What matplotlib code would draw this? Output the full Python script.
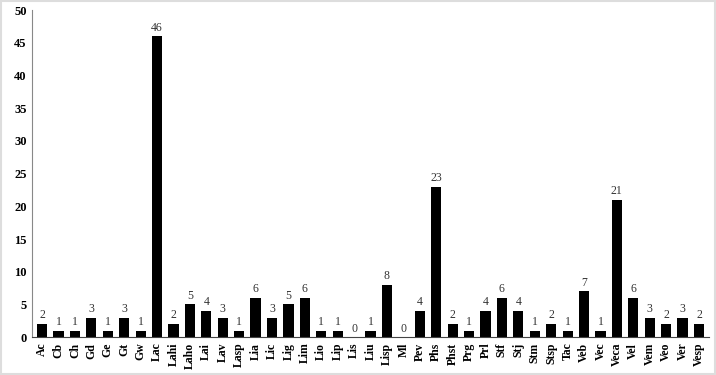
import numpy as np
import matplotlib.pyplot as plt

species = ['Ac', 'Cb', 'Ch', 'Gd', 'Ge', 'Gt', 'Gw', 'Lac', 'Lahi', 'Laho',
           'Lai', 'Lav', 'Lasp', 'Lia', 'Lic', 'Lig', 'Lim', 'Lio', 'Lip', 'Lis',
           'Liu', 'Lisp', 'Ml', 'Pev', 'Phs', 'Phst', 'Prg', 'Prl', 'Stf', 'Stj',
           'Stm', 'Stsp', 'Tac', 'Veb', 'Vec', 'Veca', 'Vel', 'Vem', 'Veo', 'Ver',
           'Vesp']
counts = [2, 1, 1, 3, 1, 3, 1, 46, 2, 5,
          4, 3, 1, 6, 3, 5, 6, 1, 1, 0,
          1, 8, 0, 4, 23, 2, 1, 4, 6, 4,
          1, 2, 1, 7, 1, 21, 6, 3, 2, 3,
          2]

plt.rcParams['font.family'] = 'Liberation Serif'

fig = plt.figure(figsize=(7.16, 3.75), dpi=100)
ax = fig.add_axes([0.045, 0.101, 0.945, 0.872])

x = np.arange(len(species))
ax.bar(x, counts, width=0.62, color='black')
for xi, c in zip(x, counts):
    ax.text(xi, c + 0.4, str(c), ha='center', va='bottom', fontsize=8.5, color='#333333')

ax.set_xlim(-0.6, len(species) - 0.4)
ax.set_ylim(0, 50)
ax.set_yticks(range(0, 51, 5))
ax.set_xticks(x)
ax.set_xticklabels(species, rotation=90, fontweight='bold', fontsize=8.5)
for lab in ax.get_yticklabels():
    lab.set_fontweight('bold')
    lab.set_fontsize(9)
ax.tick_params(axis='both', length=0, pad=4)

for s in ['top', 'right']:
    ax.spines[s].set_visible(False)
ax.spines['left'].set_color('#888888')
ax.spines['bottom'].set_color('#444444')

# light frame around the picture like the reference
fig.patches.append(plt.Rectangle((0.002, 0.003), 0.996, 0.994, transform=fig.transFigure,
                                 fill=False, edgecolor='#dddddd', linewidth=1.5))

fig.savefig('out.png', dpi=100)
